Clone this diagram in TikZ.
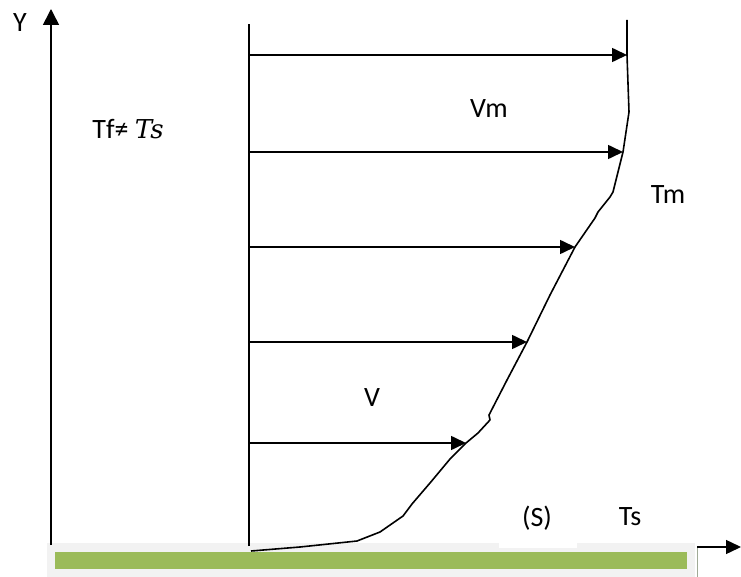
\documentclass[tikz,border=0pt]{standalone}
\usepackage{fontspec}
\setmainfont{Carlito}
\newfontfamily\mathlike{DejaVu Serif}
\usetikzlibrary{arrows.meta}
\begin{document}
\begin{tikzpicture}[x=1pt,y=-1pt,
  lbl/.style={font=\fontsize{28}{31}\selectfont, inner sep=0pt},
  vel/.style={line width=1.6pt,-{Triangle[length=15pt,width=14pt]}},
  ln/.style={line width=1.6pt,line join=round}]
\useasboundingbox (0,0) rectangle (741,577);
% ground
\fill[black!5] (47,543) rectangle (695,577);
\fill[white] (499,542) rectangle (577,548);
\fill[fill={rgb,255:red,155;green,187;blue,89}] (55,552) rectangle (687,569);
\draw[line width=1pt,color={rgb,255:red,160;green,170;blue,150}] (697,548) -- (697,577);
\coordinate (xs) at (697,547);
\coordinate (xe) at (741,547);
\draw[vel,line width=1.4pt] (xs) -- (xe);
% Y axis
\coordinate (ya) at (51,545);
\coordinate (yb) at (51,9);
\draw[line width=1.6pt,-{Triangle[length=16pt,width=16pt]}] (ya) -- (yb);
\node[lbl] (Y) at (20,23) {Y};
% inlet line
\coordinate (la) at (249,546);
\coordinate (lb) at (249,24);
\draw[ln] (la) -- (lb);
% profile
\coordinate (p0) at (627,20);
\coordinate (p1) at (627,55);
\coordinate (p2) at (629,112);
\coordinate (p3) at (623,152);
\coordinate (p4) at (613,192);
\coordinate (p5) at (610,197);
\coordinate (p6) at (598,212);
\coordinate (p7) at (595,218);
\coordinate (p8) at (575,247);
\coordinate (p9) at (550,295);
\coordinate (p10) at (527,342);
\coordinate (p11) at (507,380);
\coordinate (p12) at (489,415);
\coordinate (p13) at (490,420);
\coordinate (p14) at (478,433);
\coordinate (p15) at (466,443);
\coordinate (p16) at (450,459);
\coordinate (p17) at (430,483);
\coordinate (p18) at (412,504);
\coordinate (p19) at (403,516);
\coordinate (p20) at (380,532);
\coordinate (p21) at (357,541);
\coordinate (p22) at (300,547);
\coordinate (p23) at (251,551);
\draw[ln] (p0) -- (p1) -- (p2) -- (p3) -- (p4) -- (p5) -- (p6) -- (p7) -- (p8) -- (p9) -- (p10) -- (p11) -- (p12) -- (p13) -- (p14) -- (p15) -- (p16) -- (p17) -- (p18) -- (p19) -- (p20) -- (p21) -- (p22) -- (p23);
% velocity arrows
\coordinate (a1) at (249,55);
\coordinate (a2) at (249,152);
\coordinate (a3) at (249,247);
\coordinate (a4) at (249,342);
\coordinate (a5) at (249,443);
\draw[vel] (a1) -- (p1);
\draw[vel] (a2) -- (p3);
\draw[vel] (a3) -- (p8);
\draw[vel] (a4) -- (p10);
\draw[vel] (a5) -- (p15);
% labels
\node[lbl] (tf) at (128,129) {Tf≠ {\mathlike\itshape\fontsize{26}{30}\selectfont Ts}};
\node[lbl] (vm) at (489,109) {Vm};
\node[lbl] (tm) at (668,195) {Tm};
\node[lbl] (v) at (372,398) {V};
\node[lbl] (s) at (537,518) {(S)};
\node[lbl] (ts) at (630,517) {Ts};
\end{tikzpicture}
\end{document}
